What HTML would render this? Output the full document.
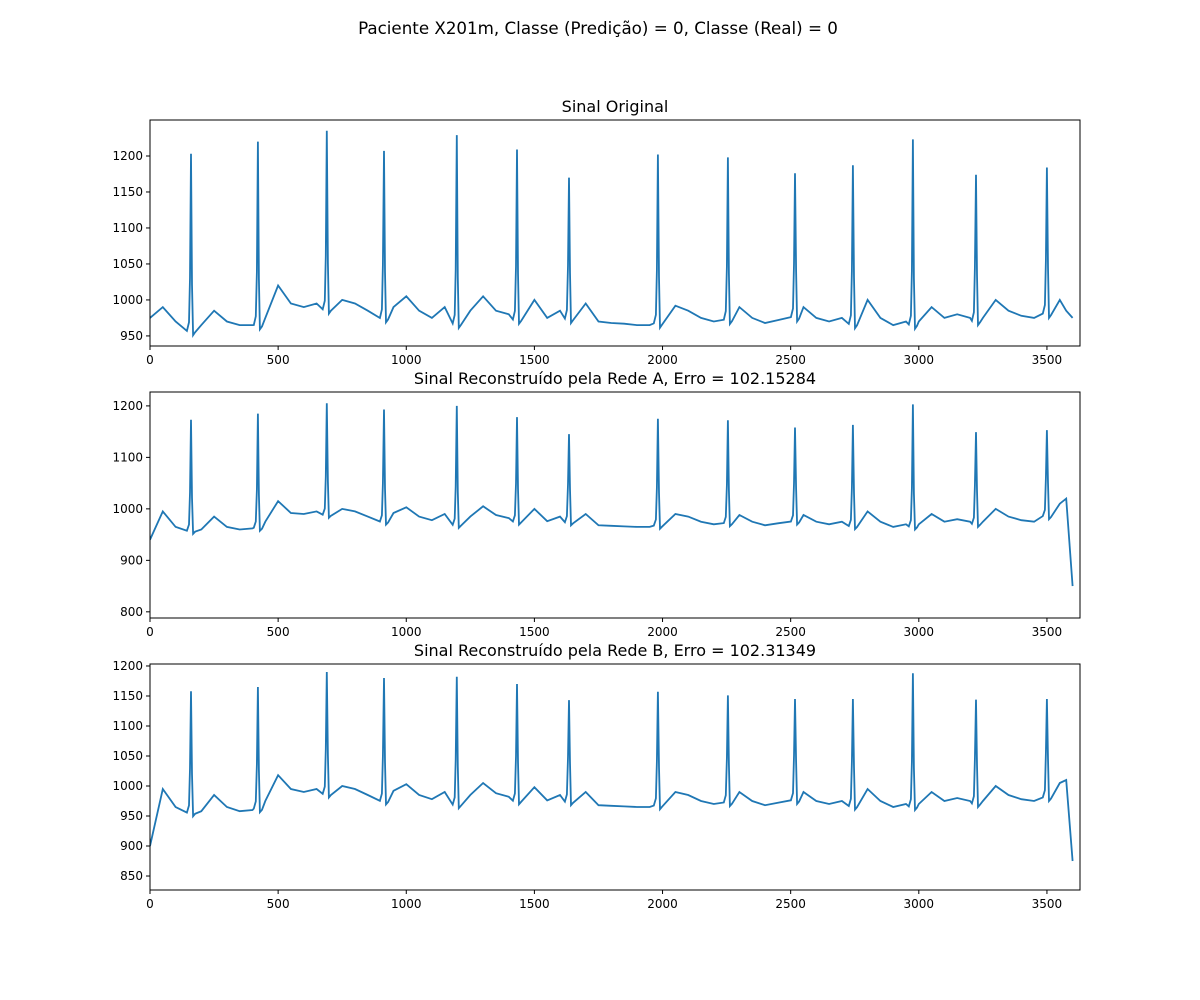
<!DOCTYPE html>
<html><head><meta charset="utf-8"><style>
body{margin:0;background:#fff}
svg{display:block;font-family:"DejaVu Sans","Liberation Sans",sans-serif}
</style></head><body>
<svg id="fig" width="1200" height="1000">
<rect width="1200" height="1000" fill="#fff"/>
<text x="598" y="34" text-anchor="middle" font-size="16.7">Paciente X201m, Classe (Predição) = 0, Classe (Real) = 0</text>
</svg>
<script>
const baseX = [0,50,100,150,200,250,300,350,400,450,500,550,600,650,700,750,800,850,900,950,1000,1050,1100,1150,1200,1250,1300,1350,1400,1450,1500,1550,1600,1650,1700,1750,1800,1850,1900,1950,2000,2050,2100,2150,2200,2250,2300,2350,2400,2450,2500,2550,2600,2650,2700,2750,2800,2850,2900,2950,3000,3050,3100,3150,3200,3250,3300,3350,3400,3450,3500,3550,3575,3600];
const origBase = [975,990,970,960,965,985,970,965,965,975,1020,995,990,995,990,1000,995,985,975,990,1005,985,975,990,970,985,1005,985,980,975,1000,975,985,975,995,970,968,967,965,965,975,992,985,975,970,975,990,975,968,972,975,990,975,970,975,970,1000,975,965,970,970,990,975,980,975,975,1000,985,978,975,985,1000,985,975];
const aBase = [940,995,965,962,960,985,965,960,962,975,1015,992,990,995,992,1000,995,985,975,992,1003,985,978,990,972,985,1005,988,982,978,1000,976,985,975,990,968,967,966,965,965,975,990,985,975,970,975,988,975,968,972,975,988,975,970,975,970,995,975,965,970,970,990,975,980,975,975,1000,985,978,975,990,1010,1020,850];
const bBase = [900,995,965,960,958,985,965,958,960,975,1018,995,990,995,990,1000,995,985,975,992,1003,985,978,990,972,985,1005,988,982,978,998,976,985,975,990,968,967,966,965,965,975,990,985,975,970,975,990,975,968,972,975,990,975,970,975,970,995,975,965,970,970,990,975,980,975,975,1000,985,978,975,985,1005,1010,875];
const peakX = [160,421,690,913,1197,1432,1635,1982,2255,2517,2743,2977,3223,3500];
const origPeaks = [1203,1220,1235,1207,1229,1209,1170,1202,1198,1176,1187,1223,1174,1184];
const aPeaks = [1173,1185,1205,1193,1200,1178,1145,1175,1172,1158,1163,1203,1149,1153];
const bPeaks = [1158,1165,1190,1180,1182,1170,1143,1157,1151,1145,1145,1188,1144,1145];
const xTicks = [0,500,1000,1500,2000,2500,3000,3500];
const panels = [
 {name:'original',title:'Sinal Original',top:120,ymin:936,ymax:1250,yt:[950,1000,1050,1100,1150,1200],base:origBase,peaks:origPeaks},
 {name:'rede-a',title:'Sinal Reconstruído pela Rede A, Erro = 102.15284',top:392,ymin:788,ymax:1227,yt:[800,900,1000,1100,1200],base:aBase,peaks:aPeaks},
 {name:'rede-b',title:'Sinal Reconstruído pela Rede B, Erro = 102.31349',top:664,ymin:826.7,ymax:1203.3,yt:[850,900,950,1000,1050,1100,1150,1200],base:bBase,peaks:bPeaks}
];
const NS='http://www.w3.org/2000/svg', svg=document.getElementById('fig');
const L=150,R=1080,H=226,XMAX=3629;
function mk(tag,at,parent){const e=document.createElementNS(NS,tag);for(const k in at)e.setAttribute(k,at[k]);(parent||svg).appendChild(e);return e;}
function interp(xs,ys,x){for(let i=1;i<xs.length;i++){if(x<=xs[i]){const t=(x-xs[i-1])/(xs[i]-xs[i-1]);return ys[i-1]+t*(ys[i]-ys[i-1]);}}return ys[ys.length-1];}
panels.forEach(p=>{
 const g=mk('g',{});
 
 
 const xs=v=>L+(v/XMAX)*(R-L);
 const ys=v=>p.top+H-(v-p.ymin)/(p.ymax-p.ymin)*H;
 const t=mk('text',{x:(L+R)/2,y:p.top-8,'text-anchor':'middle','font-size':16},g);t.textContent=p.title;
 
 
 let pts=baseX.map((x,i)=>[x,p.base[i]]).filter(q=>!peakX.some(c=>Math.abs(q[0]-c)<20));
 peakX.forEach((c,i)=>{const b=interp(baseX,p.base,c);pts.push([c-16,b-4],[c-8,b+8],[c-4,b+70],[c,p.peaks[i]],[c+4,b+60],[c+8,b-10],[c+16,b-6]);});
 pts.sort((a,b)=>a[0]-b[0]);
 const cp=mk('clipPath',{id:'c'+p.name},g);mk('rect',{x:L,y:p.top,width:R-L,height:H},cp);
 const line=mk('polyline',{points:pts.map(q=>xs(q[0]).toFixed(1)+','+ys(q[1]).toFixed(1)).join(' '),fill:'none',stroke:'#1f77b4','stroke-width':1.8,'clip-path':'url(#c'+p.name+')'},g);
 
 
 mk('rect',{x:L,y:p.top,width:R-L,height:H,fill:'none',stroke:'#000','stroke-width':1},g);
 xTicks.forEach(v=>{const x=xs(v);mk('line',{x1:x,x2:x,y1:p.top+H,y2:p.top+H+4,stroke:'#000'},g);
  const tt=mk('text',{x:x,y:p.top+H+18,'text-anchor':'middle','font-size':12},g);tt.textContent=v;
  
  });
 p.yt.forEach(v=>{const y=ys(v);mk('line',{x1:L-4,x2:L,y1:y,y2:y,stroke:'#000'},g);
  const tt=mk('text',{x:L-7,y:y+4,'text-anchor':'end','font-size':12},g);tt.textContent=v;
  
  });
});
</script>
</body></html>
